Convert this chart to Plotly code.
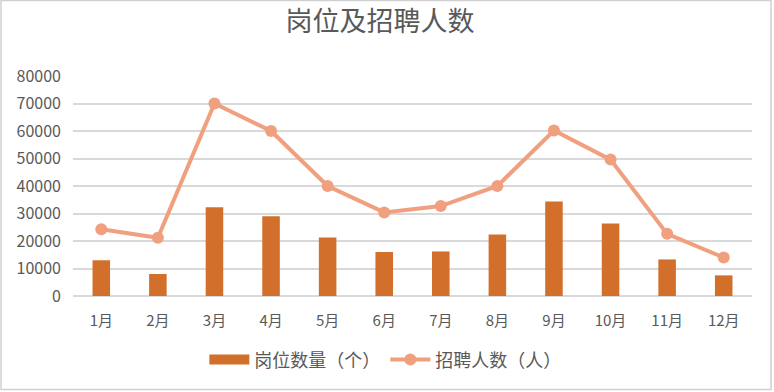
import plotly.graph_objects as go

months = ["1月", "2月", "3月", "4月", "5月", "6月", "7月", "8月", "9月", "10月", "11月", "12月"]
positions = [13000, 8000, 32300, 29000, 21300, 16000, 16200, 22400, 34400, 26400, 13300, 7500]
recruits = [24300, 21200, 70000, 60000, 40000, 30400, 32700, 40000, 60200, 49600, 22600, 14000]
y_ticks = [0, 10000, 20000, 30000, 40000, 50000, 60000, 70000, 80000]

FONT = "Noto Sans CJK SC, Liberation Sans, sans-serif"
TXT = "#595959"
BAR = "#D2702B"
LINE = "#F0A07E"

fig = go.Figure()
fig.add_trace(go.Bar(
    x=months, y=positions, name="岗位数量（个）", showlegend=False,
    marker=dict(color=BAR, line=dict(width=0)),
))
# legend entry for bars drawn as a wide block
fig.add_trace(go.Scatter(
    x=[None], y=[None], name="岗位数量（个）", mode="lines",
    line=dict(color=BAR, width=10),
))
fig.add_trace(go.Scatter(
    x=months, y=recruits, name="招聘人数（人）", mode="lines+markers",
    line=dict(color=LINE, width=4),
    marker=dict(color=LINE, size=12),
))

fig.update_layout(
    width=774, height=392,
    margin=dict(l=73, r=22, t=76, b=96, autoexpand=False),
    paper_bgcolor="white", plot_bgcolor="white",
    font=dict(family=FONT, color=TXT, size=15),
    title=dict(text="岗位及招聘人数", xref="container", x=0.491, xanchor="center",
               yref="container", y=0.944, yanchor="middle",
               font=dict(size=27, color=TXT, family=FONT)),
    bargap=0.69,
    showlegend=True,
    legend=dict(orientation="h", x=0.46, xanchor="center", y=-0.29, yanchor="middle",
                font=dict(size=18, color=TXT), traceorder="normal", itemwidth=40),
    xaxis=dict(range=[-0.5, 11.5], showgrid=False, showline=False, ticks="",
               tickfont=dict(size=15, color=TXT), automargin=False, ticklabelstandoff=14),
    yaxis=dict(range=[0, 80000], tickvals=y_ticks, showgrid=True, gridcolor="#D9D9D9",
               gridwidth=1.5, zeroline=True, zerolinecolor="#D9D9D9", zerolinewidth=1.5,
               tickfont=dict(size=16, color=TXT), tickformat="d", ticklabelstandoff=11,
               automargin=False),
    shapes=[dict(type="rect", xref="paper", yref="paper", x0=-0.106, x1=1.028, y0=-0.425, y1=1.343,
                 line=dict(color="#D0D0D0", width=1.5), fillcolor="rgba(0,0,0,0)", layer="below")],
)

fig.write_html("out.html", config={"displayModeBar": False},
               post_script="document.body.style.margin='0';document.body.style.overflow='hidden';")
